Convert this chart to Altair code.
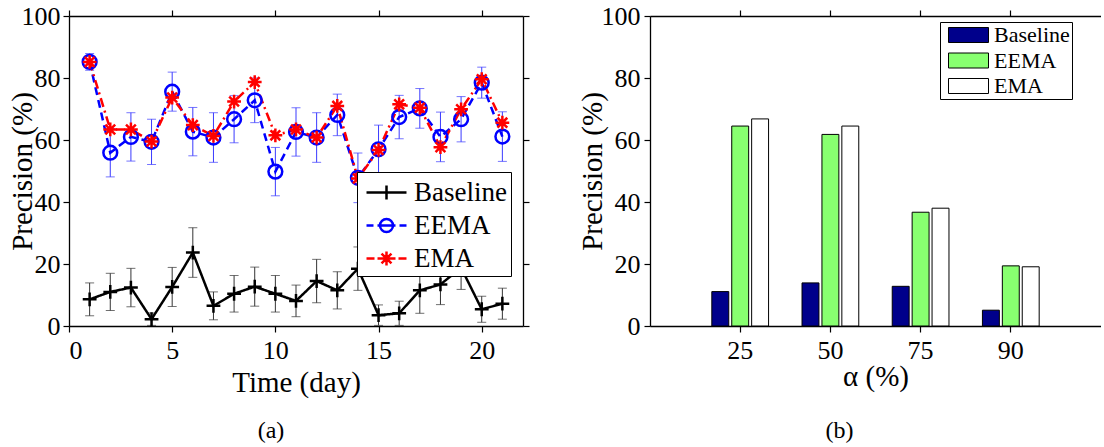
import altair as alt
import pandas as pd
import math

FONT = "'Liberation Serif', 'Times New Roman', serif"

# ---------------- data ----------------
days = list(range(1, 22))
series = ["Baseline", "EEMA", "EMA"]

baseline = [8.6, 11.0, 12.4, 2.2, 12.6, 23.7, 6.5, 10.4, 12.7, 10.4, 8.1,
            14.5, 11.5, 18.5, 3.5, 4.1, 11.5, 13.4, 18.8, 5.4, 7.2]
baseline_err = [5.3, 6.0, 6.2, 2.0, 6.3, 8.0, 4.5, 5.9, 6.3, 5.9, 5.1,
                7.0, 6.0, 7.0, 3.3, 3.9, 7.4, 6.5, 7.0, 4.2, 5.0]
eema = [85.2, 55.9, 61.0, 59.4, 75.6, 62.7, 60.8, 66.7, 72.8, 49.8, 62.6,
        60.8, 68.1, 47.8, 57.0, 67.4, 70.2, 61.0, 66.7, 78.5, 61.1]
eema_err = [2.7, 7.8, 7.8, 7.3, 6.3, 7.8, 8.0, 7.6, 7.2, 7.8, 7.8,
            8.0, 6.7, 8.0, 7.8, 7.0, 6.4, 8.0, 7.3, 5.0, 8.0]
ema = [85.2, 63.4, 63.4, 59.5, 73.7, 64.8, 61.3, 72.4, 78.7, 61.5, 63.4,
       60.8, 71.0, 47.6, 56.8, 71.5, 70.4, 57.7, 69.9, 79.6, 65.6]

alpha_levels = ["25", "50", "75", "90"]
bar_baseline = [11.1, 13.9, 12.8, 5.1]
bar_eema = [64.5, 61.8, 36.7, 19.4]
bar_ema = [66.8, 64.5, 38.0, 19.1]

x_ticks = [0, 5, 10, 15, 20]
y_ticks = [0, 20, 40, 60, 80, 100]

# ---------------- styles ----------------
line_colors = ["#000000", "#0000ff", "#ff0000"]
err_colors = ["#333333", "#3a3aff", "#ff0000"]
bar_colors = ["#00008b", "#88ff70", "#ffffff"]
dashes = [[1, 0], [8, 5], [9, 4, 2, 4]]

W_L, W_R, H = 454, 451, 310

# ---------------- tables ----------------
rows = []
for name, vals, errs in [("Baseline", baseline, baseline_err),
                         ("EEMA", eema, eema_err),
                         ("EMA", ema, None)]:
    for i, d in enumerate(days):
        v = vals[i]
        row = {"day": d, "series": name, "value": v}
        if errs is not None:
            row["lo"] = v - errs[i]
            row["hi"] = v + errs[i]
        rows.append(row)
df = pd.DataFrame(rows)
df_err = df[df["series"] != "EMA"]

bars = []
for name, vals in [("Baseline", bar_baseline), ("EEMA", bar_eema), ("EMA", bar_ema)]:
    for a, v in zip(alpha_levels, vals):
        bars.append({"alpha": a, "series": name, "value": v})
dfb = pd.DataFrame(bars)

# ---------------- symbol paths ----------------
PLUS = "M-1,0H1M0,-1V1"
CIRCLE = "M1,0A1,1,0,1,1,-1,0A1,1,0,1,1,1,0"
STAR = "M-1,0H1M0,-1V1M-0.71,-0.71L0.71,0.71M-0.71,0.71L0.71,-0.71"

LG_SIZE = 900
U = math.sqrt(LG_SIZE) / 2.0


def f(v):
    return f"{v / U:.3f}"


def legend_path(x0, x1, dash, marker, mx, mr):
    parts = []
    if dash is None:
        parts.append(f"M{f(x0)},0H{f(x1)}")
    else:
        x, i = x0, 0
        while x < x1:
            seg = dash[i % len(dash)]
            if i % 2 == 0:
                parts.append(f"M{f(x)},0H{f(min(x + seg, x1))}")
            x += seg
            i += 1
    if marker == "plus":
        parts.append(f"M{f(mx - mr)},0H{f(mx + mr)}M{f(mx)},{f(-mr)}V{f(mr)}")
    elif marker == "circle":
        parts.append(f"M{f(mx + mr)},0A{f(mr)},{f(mr)},0,1,1,{f(mx - mr)},0"
                     f"A{f(mr)},{f(mr)},0,1,1,{f(mx + mr)},0M{f(mx - mr)},0H{f(mx + mr)}")
    else:
        d = mr * 0.71
        parts.append(f"M{f(mx - mr)},0H{f(mx + mr)}M{f(mx)},{f(-mr)}V{f(mr)}"
                     f"M{f(mx - d)},{f(-d)}L{f(mx + d)},{f(d)}M{f(mx - d)},{f(d)}L{f(mx + d)},{f(-d)}")
    return "".join(parts)


LX0, LX1, LMX = -11, 29, 9
legend_paths = [
    legend_path(LX0, LX1, None, "plus", LMX, 7),
    legend_path(LX0, LX1, [7, 4], "circle", LMX, 6.5),
    legend_path(LX0, LX1, [8, 3, 2, 3], "star", LMX, 7),
]

SW_SIZE = 400
SU = math.sqrt(SW_SIZE) / 2.0
swatch_path = (f"M{-4.5 / SU:.3f},{-7.5 / SU:.3f}H{35.5 / SU:.3f}V{7.5 / SU:.3f}"
               f"H{-4.5 / SU:.3f}Z")

# ---------------- left panel ----------------
xs = alt.Scale(domain=[0, 22], nice=False, zero=False)
ys = alt.Scale(domain=[0, 100], nice=False)

ax_bottom = alt.Axis(orient="bottom", values=x_ticks, title="Time (day)",
                     labelPadding=5, titlePadding=5, format="d")
ax_left = alt.Axis(orient="left", values=y_ticks, title="Precision (%)",
                   labelPadding=3, titleX=-38, titleY=H / 2,
                   titleBaseline="alphabetic", titleAngle=270)
ax_top = alt.Axis(orient="top", values=x_ticks, labels=False, title=None)
ax_right = alt.Axis(orient="right", values=y_ticks, labels=False, title=None)


def cenc(colors, legend=None):
    return alt.Color("series:N", scale=alt.Scale(domain=series, range=colors),
                     legend=legend)


err_rules = alt.Chart(df_err).mark_rule(strokeWidth=1).encode(
    x=alt.X("day:Q", scale=xs, axis=None),
    y=alt.Y("lo:Q", scale=ys, axis=None),
    y2="hi:Q",
    color=cenc(err_colors),
)
cap_lo = alt.Chart(df_err).mark_tick(orient="horizontal", size=9, thickness=1).encode(
    x=alt.X("day:Q", scale=xs, axis=None),
    y=alt.Y("lo:Q", scale=ys, axis=None),
    color=cenc(err_colors),
)
cap_hi = alt.Chart(df_err).mark_tick(orient="horizontal", size=9, thickness=1).encode(
    x=alt.X("day:Q", scale=xs, axis=None),
    y=alt.Y("hi:Q", scale=ys, axis=None),
    color=cenc(err_colors),
)
lines = alt.Chart(df).mark_line(strokeWidth=2.5).encode(
    x=alt.X("day:Q", scale=xs, axis=ax_bottom),
    y=alt.Y("value:Q", scale=ys, axis=ax_left),
    color=cenc(line_colors),
    strokeDash=alt.StrokeDash("series:N", scale=alt.Scale(domain=series, range=dashes),
                              legend=None),
)
points = alt.Chart(df).mark_point(filled=False, opacity=1, strokeWidth=2.5, size=190).encode(
    x=alt.X("day:Q", scale=xs, axis=ax_top),
    y=alt.Y("value:Q", scale=ys, axis=ax_right),
    color=cenc(line_colors),
    shape=alt.Shape("series:N", scale=alt.Scale(domain=series, range=[PLUS, CIRCLE, STAR]),
                    legend=None),
)
lg = alt.Legend(orient="none", legendX=288, legendY=156, title=None,
                labelFont=FONT, labelFontSize=27, labelColor="black",
                symbolSize=LG_SIZE, symbolStrokeWidth=2.5, symbolFillColor="transparent",
                labelOffset=20, padding=4, rowPadding=3,
                strokeColor="black", fillColor="white")
legend_holder = alt.Chart(df).transform_filter("false").mark_point(
    filled=False, opacity=1, strokeWidth=2.5).encode(
    x=alt.X("day:Q", scale=xs, axis=None),
    y=alt.Y("value:Q", scale=ys, axis=None),
    color=cenc(line_colors, lg),
    shape=alt.Shape("series:N", scale=alt.Scale(domain=series, range=legend_paths),
                    legend=lg),
)

left = alt.layer(err_rules, cap_lo, cap_hi, lines, points, legend_holder).resolve_scale(
    color="independent", shape="independent", strokeDash="independent"
).resolve_axis(x="independent", y="independent").properties(
    width=W_L, height=H,
    title=alt.TitleParams("(a)", orient="bottom", offset=22, dx=-25),
)

# ---------------- right panel ----------------
xb = alt.Scale(domain=alpha_levels, paddingInner=0, paddingOuter=0.5)
ybs = alt.Scale(domain=[0, 100], nice=False)

blg = alt.Legend(orient="none", legendX=871, legendY=6, title=None,
                 labelFont=FONT, labelFontSize=22, labelColor="black",
                 symbolType=swatch_path, symbolSize=SW_SIZE,
                 symbolStrokeColor="black", symbolStrokeWidth=1,
                 labelOffset=30, padding=2, rowPadding=3.5,
                 strokeColor="black", fillColor="white")

y_right_main = alt.Axis(orient="left", values=y_ticks, title="Precision (%)",
                        labelPadding=4, titleX=-49, titleY=H / 2,
                        titleBaseline="alphabetic", titleAngle=270)

bar_layer = alt.Chart(dfb).mark_bar(stroke="black", strokeWidth=1).encode(
    x=alt.X("alpha:N", scale=xb, sort=alpha_levels,
            axis=alt.Axis(orient="bottom", title="α (%)", labelAngle=0,
                          labelPadding=5, titlePadding=-1)),
    xOffset=alt.XOffset("series:N", sort=series,
                        scale=alt.Scale(domain=series, paddingInner=0.15, paddingOuter=0.84)),
    y=alt.Y("value:Q", scale=ybs, axis=y_right_main),
    fill=alt.Fill("series:N", scale=alt.Scale(domain=series, range=bar_colors), legend=blg),
)
frame_layer = alt.Chart(dfb).mark_point(opacity=0).encode(
    x=alt.X("alpha:N", scale=xb, sort=alpha_levels,
            axis=alt.Axis(orient="top", labels=False, title=None)),
    y=alt.Y("value:Q", scale=ybs, axis=None),
)

right = alt.layer(bar_layer, frame_layer).resolve_axis(
    x="independent", y="independent").properties(
    width=W_R, height=H,
    title=alt.TitleParams("(b)", orient="bottom", offset=28, dx=-36),
)

chart = alt.hconcat(left, right, spacing=127, bounds="flush").properties(
    padding={"left": 8, "top": 3, "right": 0, "bottom": 0}
).configure_view(stroke=None).configure_axis(
    labelFont=FONT, labelFontSize=26, labelColor="black",
    titleFont=FONT, titleFontSize=29, titleFontWeight="normal", titleColor="black",
    domainColor="black", domainWidth=1.3, tickColor="black", tickWidth=1.2,
    tickSize=6, grid=False,
).configure_title(font=FONT, fontSize=24, fontWeight="normal", color="black")

chart.save("out.html", embed_options={"renderer": "svg", "actions": False})
